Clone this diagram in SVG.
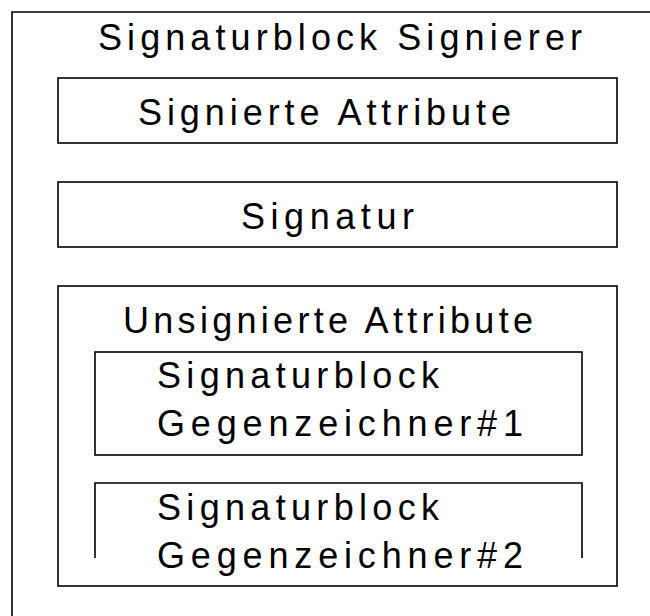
<svg xmlns="http://www.w3.org/2000/svg" width="650" height="616" viewBox="0 0 650 616">
<style>
.box{fill:none;stroke:#000;stroke-width:1.6}
.t{font-family:"Liberation Sans",Arial,sans-serif;font-size:36px;fill:#000}
</style>
<rect width="650" height="616" fill="#fff"/>
<g id="outer">
<path class="box" d="M12,625 V12 H660"/>
<text class="t" x="98" y="50" textLength="484" lengthAdjust="spacing">Signaturblock Signierer</text>
</g>
<g id="signierte">
<rect class="box" x="58" y="78" width="559" height="65"/>
<text class="t" x="138" y="125" textLength="373" lengthAdjust="spacing">Signierte Attribute</text>
</g>
<g id="signatur">
<rect class="box" x="58" y="182" width="559" height="65"/>
<text class="t" x="241" y="229" textLength="173" lengthAdjust="spacing">Signatur</text>
</g>
<g id="unsigniert">
<rect class="box" x="58" y="286" width="559" height="300"/>
<text class="t" x="123" y="333" textLength="410" lengthAdjust="spacing">Unsignierte Attribute</text>
</g>
<g id="gegen1">
<rect class="box" x="95" y="352" width="487" height="103"/>
<text class="t" x="157" y="388" textLength="282" lengthAdjust="spacing">Signaturblock</text>
<text class="t" x="157" y="436" textLength="366" lengthAdjust="spacing">Gegenzeichner#1</text>
</g>
<g id="gegen2">
<path class="box" d="M95,558 V483 H582 V558"/>
<text class="t" x="157" y="520" textLength="282" lengthAdjust="spacing">Signaturblock</text>
<text class="t" x="157" y="568" textLength="366" lengthAdjust="spacing">Gegenzeichner#2</text>
</g>
<g id="connectors"></g>
</svg>
